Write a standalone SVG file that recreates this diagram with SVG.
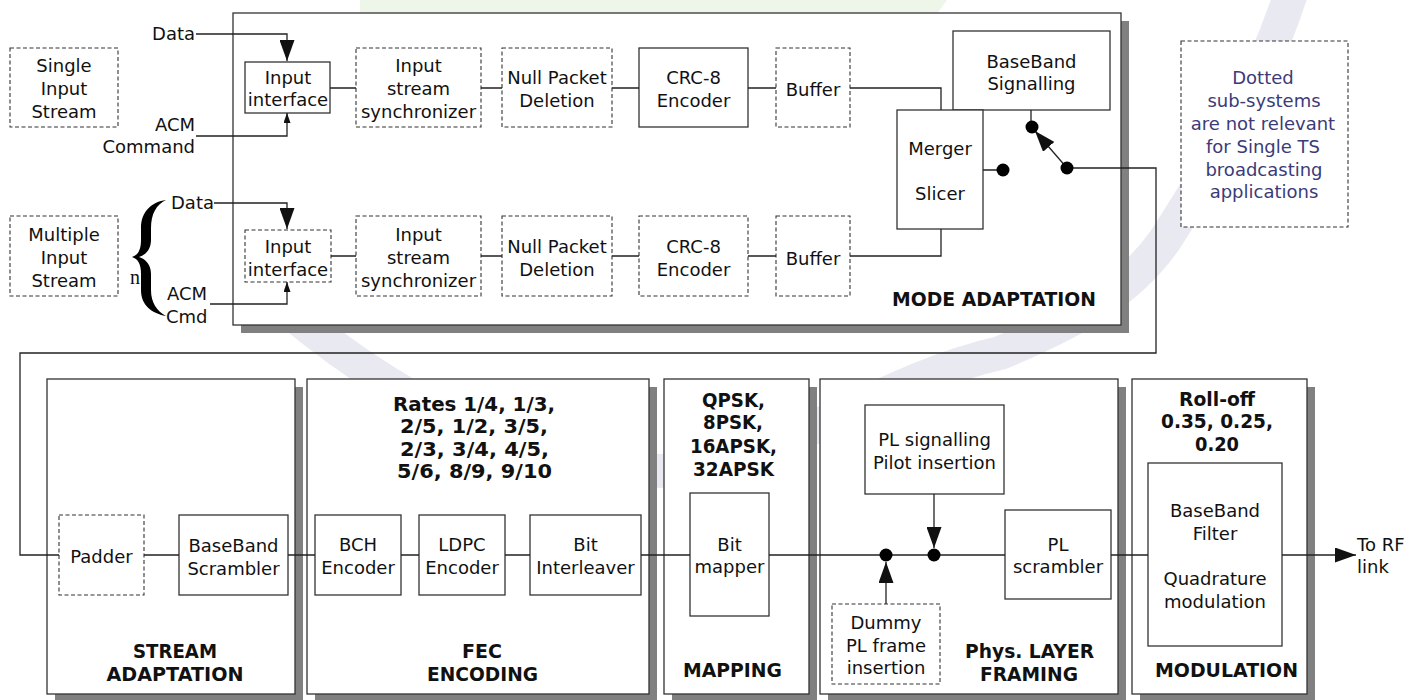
<svg xmlns="http://www.w3.org/2000/svg" width="1426" height="700" viewBox="0 0 1426 700">
<defs>
<style>
.box{fill:#fff;stroke:#333;stroke-width:1.3}
.dbox{fill:#fff;stroke:#333;stroke-width:1.1;stroke-dasharray:4 2.5}
.sh{fill:#808080}
.t{font-family:"DejaVu Sans",Verdana,sans-serif;font-size:18px;fill:#111;text-anchor:middle}
.b{font-weight:bold;font-size:19px}
.note{fill:#3b3b78}
.ln{fill:none;stroke:#222;stroke-width:1.3}
.big{marker-end:url(#ah)}
.sm{marker-end:url(#as)}
</style>
<marker id="ah" viewBox="0 0 21 15" refX="21" refY="7.5" markerWidth="21" markerHeight="15" orient="auto" markerUnits="userSpaceOnUse"><path d="M0,0 L21,7.5 L0,15 z" fill="#111"/></marker>
<marker id="as" viewBox="0 0 10 7" refX="10" refY="3.5" markerWidth="10" markerHeight="7" orient="auto" markerUnits="userSpaceOnUse"><path d="M0,0 L10,3.5 L0,7 z" fill="#111"/></marker>
</defs>
<rect width="1426" height="700" fill="#fff"/>
<g id="watermark">
<polygon points="360,0 947,0 937,14 360,14" fill="#eef6ea"/>
<path d="M290,312 C420,420 560,480 680,470 C780,462 880,380 1000,353 C1080,320 1130,290 1165,240 C1210,170 1260,90 1292,-10" fill="none" stroke="#e9eaf1" stroke-width="34"/>
</g>

<g id="mode-adaptation">
<rect class="sh" x="241" y="21" width="888" height="312"/>
<rect class="box" x="233" y="13" width="888" height="312"/>
<text class="t b" x="994" y="306" textLength="204" lengthAdjust="spacingAndGlyphs">MODE ADAPTATION</text>
</g>

<g id="single-input-stream">
<rect class="dbox" x="10" y="48" width="108" height="79"/>
<text class="t" x="64" y="72">Single</text><text class="t" x="64" y="95">Input</text><text class="t" x="64" y="118">Stream</text>
</g>
<g id="multiple-input-stream">
<rect class="dbox" x="10" y="216" width="108" height="80"/>
<text class="t" x="64" y="241">Multiple</text><text class="t" x="64" y="264">Input</text><text class="t" x="64" y="287">Stream</text>
</g>
<g id="brace">
<path d="M166,200 C152,202 141,211 141,228 L141,240 C141,250 138,255 132,257 C138,259 141,264 141,274 L141,290 C141,305 151,313 166,316 C157,311 151,303 151,290 L151,274 C151,265 146,259 139,257 C146,255 151,249 151,240 L151,228 C151,214 156,205 166,200 Z" fill="#000"/>
<text x="135" y="284" style="font-family:'Liberation Serif',serif;font-size:20px;fill:#111;text-anchor:middle">n</text>
</g>
<g id="input-labels">
<text class="t" x="195" y="40" style="text-anchor:end">Data</text>
<text class="t" x="195" y="131" style="text-anchor:end">ACM</text>
<text class="t" x="195" y="153" style="text-anchor:end">Command</text>
<text class="t" x="171" y="209" style="text-anchor:start">Data</text>
<text class="t" x="167" y="300" style="text-anchor:start">ACM</text>
<text class="t" x="166" y="323" style="text-anchor:start">Cmd</text>
</g>

<g id="input-interface-1"><rect class="box" x="245" y="62" width="85" height="51"/><text class="t" x="288" y="84">Input</text><text class="t" x="288" y="106">interface</text></g>
<g id="sync-1"><rect class="dbox" x="356" y="48" width="125" height="79"/><text class="t" x="418.5" y="72">Input</text><text class="t" x="418.5" y="95">stream</text><text class="t" x="418.5" y="118">synchronizer</text></g>
<g id="null-1"><rect class="dbox" x="502" y="48" width="110" height="79"/><text class="t" x="557" y="84">Null Packet</text><text class="t" x="557" y="107">Deletion</text></g>
<g id="crc-1"><rect class="box" x="639" y="48" width="109" height="79"/><text class="t" x="693.5" y="84">CRC-8</text><text class="t" x="693.5" y="107">Encoder</text></g>
<g id="buffer-1"><rect class="dbox" x="776" y="48" width="74" height="79"/><text class="t" x="813" y="96">Buffer</text></g>

<g id="input-interface-2"><rect class="dbox" x="245" y="230" width="86" height="52"/><text class="t" x="288" y="253">Input</text><text class="t" x="288" y="276">interface</text></g>
<g id="sync-2"><rect class="dbox" x="356" y="216" width="125" height="80"/><text class="t" x="418.5" y="241">Input</text><text class="t" x="418.5" y="264">stream</text><text class="t" x="418.5" y="287">synchronizer</text></g>
<g id="null-2"><rect class="dbox" x="502" y="216" width="110" height="80"/><text class="t" x="557" y="253">Null Packet</text><text class="t" x="557" y="276">Deletion</text></g>
<g id="crc-2"><rect class="dbox" x="639" y="216" width="109" height="80"/><text class="t" x="693.5" y="253">CRC-8</text><text class="t" x="693.5" y="276">Encoder</text></g>
<g id="buffer-2"><rect class="dbox" x="776" y="216" width="74" height="80"/><text class="t" x="813" y="265">Buffer</text></g>

<g id="baseband-signalling"><rect class="box" x="953" y="31" width="157" height="79"/><text class="t" x="1031.5" y="68">BaseBand</text><text class="t" x="1031.5" y="90">Signalling</text></g>
<g id="merger-slicer"><rect class="box" x="897" y="110" width="86" height="119"/><text class="t" x="940" y="155">Merger</text><text class="t" x="940" y="200">Slicer</text></g>

<g id="note"><rect class="dbox" x="1181" y="41" width="167" height="186"/>
<text class="t note" x="1263" y="84">Dotted</text><text class="t note" x="1264" y="107">sub-systems</text><text class="t note" x="1263" y="130">are not relevant</text><text class="t note" x="1263" y="153">for Single TS</text><text class="t note" x="1264" y="176">broadcasting</text><text class="t note" x="1264" y="198">applications</text></g>

<g id="stream-adaptation">
<rect class="sh" x="55" y="387" width="248" height="315"/><rect class="box" x="47" y="379" width="248" height="315"/>
<text class="t b" x="175" y="658" textLength="84" lengthAdjust="spacingAndGlyphs">STREAM</text><text class="t b" x="175" y="681" textLength="137" lengthAdjust="spacingAndGlyphs">ADAPTATION</text></g>
<g id="fec-encoding">
<rect class="sh" x="315" y="387" width="342" height="315"/><rect class="box" x="307" y="379" width="342" height="315"/>
<text class="t b" x="474" y="411" textLength="162" lengthAdjust="spacingAndGlyphs">Rates 1/4, 1/3,</text><text class="t b" x="474" y="433" textLength="148" lengthAdjust="spacingAndGlyphs">2/5, 1/2, 3/5,</text><text class="t b" x="474.5" y="456" textLength="149" lengthAdjust="spacingAndGlyphs">2/3, 3/4, 4/5,</text><text class="t b" x="474.5" y="478" textLength="155" lengthAdjust="spacingAndGlyphs">5/6, 8/9, 9/10</text>
<text class="t b" x="482" y="658">FEC</text><text class="t b" x="482.5" y="681" textLength="111" lengthAdjust="spacingAndGlyphs">ENCODING</text></g>
<g id="mapping">
<rect class="sh" x="672" y="387" width="145" height="315"/><rect class="box" x="664" y="379" width="145" height="315"/>
<text class="t b" x="733.5" y="407" textLength="63" lengthAdjust="spacingAndGlyphs">QPSK,</text><text class="t b" x="733" y="429" textLength="60" lengthAdjust="spacingAndGlyphs">8PSK,</text><text class="t b" x="733.5" y="453" textLength="87" lengthAdjust="spacingAndGlyphs">16APSK,</text><text class="t b" x="733.5" y="476" textLength="81" lengthAdjust="spacingAndGlyphs">32APSK</text>
<text class="t b" x="732.5" y="677" textLength="99" lengthAdjust="spacingAndGlyphs">MAPPING</text></g>
<g id="phys-layer-framing">
<rect class="sh" x="828" y="387" width="298" height="315"/><rect class="box" x="820" y="379" width="298" height="315"/>
<text class="t b" x="1029.5" y="658" textLength="129" lengthAdjust="spacingAndGlyphs">Phys. LAYER</text><text class="t b" x="1029" y="681" textLength="98" lengthAdjust="spacingAndGlyphs">FRAMING</text></g>
<g id="modulation">
<rect class="sh" x="1140" y="387" width="175" height="315"/><rect class="box" x="1132" y="379" width="175" height="315"/>
<text class="t b" x="1217" y="406" textLength="76" lengthAdjust="spacingAndGlyphs">Roll-off</text><text class="t b" x="1217" y="428" textLength="112" lengthAdjust="spacingAndGlyphs">0.35, 0.25,</text><text class="t b" x="1217" y="451" textLength="44" lengthAdjust="spacingAndGlyphs">0.20</text>
<text class="t b" x="1226.5" y="677" textLength="143" lengthAdjust="spacingAndGlyphs">MODULATION</text></g>

<g id="padder"><rect class="dbox" x="59" y="515" width="85" height="80"/><text class="t" x="101.5" y="563">Padder</text></g>
<g id="bb-scrambler"><rect class="box" x="179" y="515" width="109" height="80"/><text class="t" x="233.5" y="552">BaseBand</text><text class="t" x="233.5" y="575">Scrambler</text></g>
<g id="bch"><rect class="box" x="315" y="515" width="86" height="80"/><text class="t" x="358" y="551">BCH</text><text class="t" x="358" y="574">Encoder</text></g>
<g id="ldpc"><rect class="box" x="419" y="515" width="86" height="80"/><text class="t" x="462" y="551">LDPC</text><text class="t" x="462" y="574">Encoder</text></g>
<g id="bit-interleaver"><rect class="box" x="530" y="515" width="111" height="80"/><text class="t" x="585.5" y="551">Bit</text><text class="t" x="585.5" y="574">Interleaver</text></g>
<g id="bit-mapper"><rect class="box" x="690" y="493" width="79" height="123"/><text class="t" x="729.5" y="551">Bit</text><text class="t" x="729.5" y="573">mapper</text></g>
<g id="pl-signalling"><rect class="box" x="865" y="405" width="139" height="89"/><text class="t" x="934.5" y="446">PL signalling</text><text class="t" x="934.5" y="469">Pilot insertion</text></g>
<g id="dummy-pl"><rect class="dbox" x="832" y="604" width="108" height="80"/><text class="t" x="886" y="629">Dummy</text><text class="t" x="886" y="652">PL frame</text><text class="t" x="886" y="674">insertion</text></g>
<g id="pl-scrambler"><rect class="box" x="1005" y="510" width="106" height="89"/><text class="t" x="1058" y="551">PL</text><text class="t" x="1058" y="573">scrambler</text></g>
<g id="bb-filter"><rect class="box" x="1148" y="463" width="134" height="183"/><text class="t" x="1215" y="517">BaseBand</text><text class="t" x="1215" y="540">Filter</text><text class="t" x="1215" y="585">Quadrature</text><text class="t" x="1215" y="608">modulation</text></g>
<g id="to-rf"><text class="t" x="1357" y="551" style="text-anchor:start">To RF</text><text class="t" x="1357" y="573" style="text-anchor:start">link</text></g>

<g id="connectors">
<path class="ln big" d="M196,34 H287 V61"/>
<path class="ln sm" d="M196,136 H287 V113"/>
<path class="ln big" d="M214,203 H287 V229"/>
<path class="ln sm" d="M210,304 H287 V282"/>
<path class="ln" d="M330,88 H356 M481,88 H502 M612,88 H639 M748,88 H776 M850,88 H941 V110"/>
<path class="ln" d="M331,256 H356 M481,256 H502 M612,256 H639 M748,256 H776 M850,256 H941 V229"/>
<path class="ln" d="M1031,110 V127 M983,170 H1003"/>
<path class="ln big" d="M1067,168 L1035,131"/>
<path class="ln" d="M1067,168 H1156 V353 H20 V555 H59"/>
<path class="ln" d="M144,555 H179 M288,555 H315 M401,555 H419 M505,555 H530 M641,555 H690 M769,555 H1005 M1111,555 H1148"/>
<path class="ln big" d="M1282,555 H1356"/>
<path class="ln big" d="M934,494 V548"/>
<path class="ln big" d="M886,604 V562"/>
<g fill="#000">
<circle cx="1032" cy="127" r="6.5"/><circle cx="1003" cy="170" r="6.5"/><circle cx="1067" cy="168" r="6.5"/>
<circle cx="886" cy="555" r="6.5"/><circle cx="934" cy="555" r="6.5"/>
</g>
</g>
</svg>
